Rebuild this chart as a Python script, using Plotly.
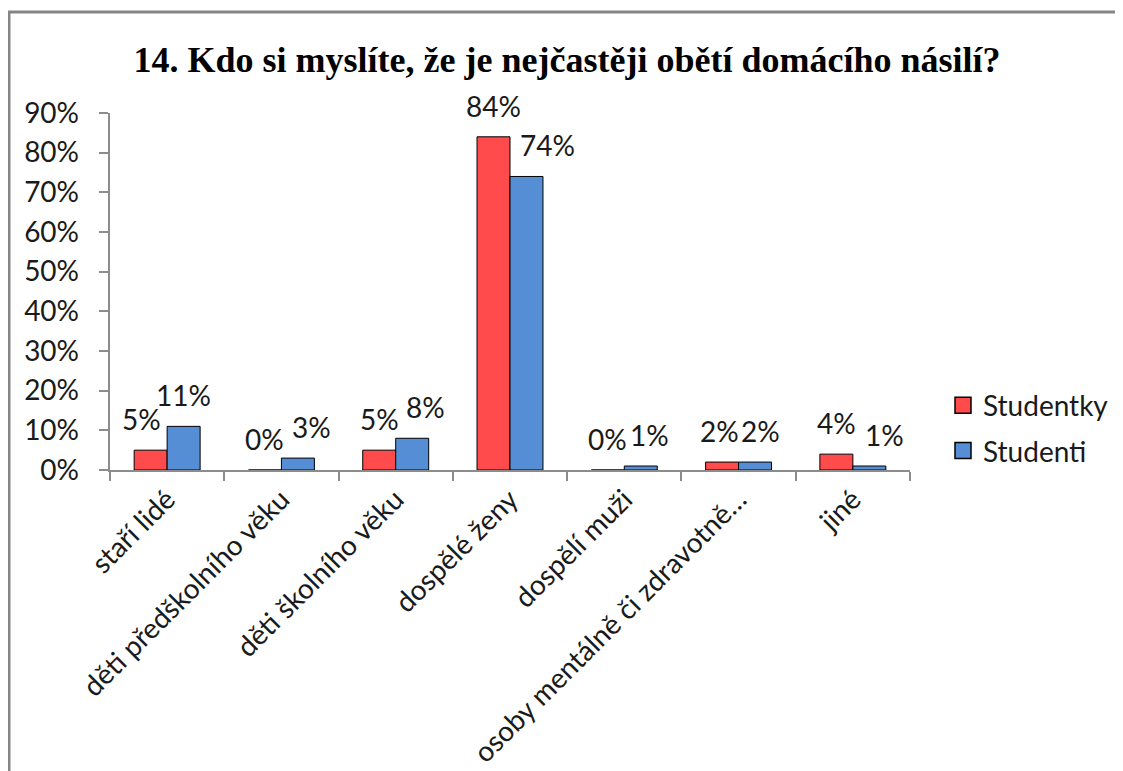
import plotly.graph_objects as go

categories = ["staří lidé", "děti předškolního věku", "děti školního věku", "dospělé ženy",
              "dospělí muži", "osoby mentálně či zdravotně…", "jiné"]
studentky = [0.05, 0.0, 0.05, 0.84, 0.0, 0.02, 0.04]
studenti = [0.11, 0.03, 0.08, 0.74, 0.01, 0.02, 0.01]
series_names = ["Studentky", "Studenti"]
colors = ["#FF4B4B", "#558ED5"]
y_ticks = [0, 0.1, 0.2, 0.3, 0.4, 0.5, 0.6, 0.7, 0.8, 0.9]
y_ticklabels = [f"{int(round(v*100))}%" for v in y_ticks]

# small horizontal nudges of data labels (style, pixels)
label_nudge = [[-9, 0, 0, 0, 0, -3, 0], [0, 14, 13, 21, 9, 5, 15]]

FONT = "Lato"
FS = 28
W, H = 1115, 763
L, R, T, B = 102, 213, 105, 301
pw, ph = W - L - R, H - T - B

fig = go.Figure()
for i, (name, vals) in enumerate(zip(series_names, [studentky, studenti])):
    fig.add_trace(go.Bar(
        x=categories, y=vals, name=name, legendgroup=name, showlegend=False,
        marker=dict(color=colors[i], line=dict(color="#000000", width=1)),
    ))
    for j, (c, v) in enumerate(zip(categories, vals)):
        fig.add_annotation(
            x=c, y=v, xref="x", yref="y", text=f"{int(round(v*100))}%",
            showarrow=False, yanchor="bottom", yshift=12,
            xshift=(-16.5 if i == 0 else 16.5) + label_nudge[i][j],
            font=dict(family=FONT, size=FS, color="#1a1a1a"),
        )

for i, name in enumerate(series_names):
    fig.add_trace(go.Scatter(
        x=[None], y=[None], mode="markers", name=name, legendgroup=name, showlegend=True,
        marker=dict(symbol="square", size=16, color=colors[i], line=dict(color="#000000", width=1.5)),
    ))

fig.add_shape(type="rect", xref="paper", yref="paper",
              x0=(1 - L) / pw, x1=(W + 40 - L) / pw,
              y0=-(B + 40) / ph, y1=(H - B - 4) / ph,
              line=dict(color="#868686", width=3), fillcolor="rgba(0,0,0,0)", layer="below")

fig.update_layout(
    width=W, height=H,
    margin=dict(l=L, r=R, t=T, b=B, autoexpand=False),
    paper_bgcolor="white", plot_bgcolor="white",
    barmode="group", bargap=0.423, bargroupgap=0,
    title=dict(text="<b>14. Kdo si myslíte, že je nejčastěji obětí domácího násilí?</b>",
               x=559 / W, xanchor="center", y=1 - 51 / H, yanchor="middle",
               font=dict(family="Liberation Serif", size=36, color="#000000")),
    font=dict(family=FONT, size=FS, color="#1a1a1a"),
    legend=dict(x=(935 - L) / pw, xanchor="left", y=(H - B - 420) / ph, yanchor="middle",
                font=dict(family=FONT, size=FS, color="#1a1a1a"),
                tracegroupgap=6, bgcolor="rgba(0,0,0,0)", itemsizing="trace"),
    showlegend=True,
)
fig.update_xaxes(
    type="category", tickangle=-45, showline=True, linecolor="#8c8c8c", linewidth=2,
    ticks="outside", ticklen=9, tickcolor="#8c8c8c", tickwidth=2, tickson="boundaries",
    showgrid=False, tickfont=dict(family=FONT, size=FS, color="#1a1a1a"),
)
fig.update_yaxes(
    range=[0, 0.9], tickvals=y_ticks, ticktext=[t + "\u00a0\u00a0" for t in y_ticklabels],
    showline=True,
    linecolor="#8c8c8c", linewidth=2, ticks="outside", ticklen=9, tickcolor="#8c8c8c",
    tickwidth=2, showgrid=False, zeroline=False,
    tickfont=dict(family=FONT, size=FS, color="#1a1a1a"),
)

fig.write_html("out.html")
